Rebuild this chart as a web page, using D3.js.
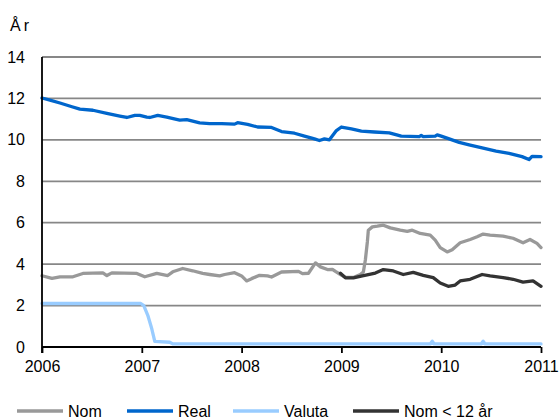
<!DOCTYPE html>
<html>
<head>
<meta charset="utf-8">
<script src="https://cdn.jsdelivr.net/npm/d3@7"></script>
<style>
  html, body { margin: 0; padding: 0; background: #fff; }
  svg { display: block; }
  text { font-family: "Liberation Sans", Arial, sans-serif; fill: #000; }
</style>
</head>
<body>
<svg id="chart" width="560" height="420"></svg>
<script>
// Decimal-year time points and values (years) for each series
const nomYears = [2006.00, 2006.10, 2006.18, 2006.31, 2006.41, 2006.61, 2006.65, 2006.70, 2006.95, 2007.03,
  2007.15, 2007.26, 2007.31, 2007.41, 2007.51, 2007.61, 2007.68, 2007.78, 2007.83, 2007.93,
  2008.00, 2008.05, 2008.10, 2008.18, 2008.26, 2008.30, 2008.40, 2008.57, 2008.61, 2008.67,
  2008.74, 2008.79, 2008.86, 2008.91, 2008.94, 2008.99, 2009.04, 2009.12, 2009.19, 2009.22,
  2009.24, 2009.26, 2009.27, 2009.31, 2009.36, 2009.42, 2009.49, 2009.59, 2009.66, 2009.71,
  2009.79, 2009.89, 2009.94, 2009.99, 2010.06, 2010.11, 2010.19, 2010.29, 2010.36, 2010.42,
  2010.49, 2010.62, 2010.72, 2010.82, 2010.89, 2010.96, 2011.00];
const nomValues = [3.44, 3.31, 3.39, 3.39, 3.55, 3.58, 3.45, 3.58, 3.55, 3.39,
  3.55, 3.45, 3.63, 3.79, 3.68, 3.55, 3.50, 3.43, 3.50, 3.59,
  3.43, 3.19, 3.30, 3.46, 3.43, 3.38, 3.62, 3.65, 3.54, 3.56,
  4.06, 3.87, 3.74, 3.75, 3.65, 3.50, 3.36, 3.36, 3.50, 3.62,
  4.20, 5.07, 5.64, 5.80, 5.83, 5.88, 5.75, 5.64, 5.58, 5.64,
  5.48, 5.40, 5.16, 4.80, 4.59, 4.70, 5.03, 5.19, 5.32, 5.45,
  5.40, 5.35, 5.25, 5.03, 5.19, 5.00, 4.80];

const realYears = [2006.00, 2006.08, 2006.18, 2006.30, 2006.38, 2006.51, 2006.65, 2006.78, 2006.85, 2006.93,
  2006.98, 2007.05, 2007.08, 2007.16, 2007.25, 2007.38, 2007.45, 2007.58, 2007.68, 2007.80,
  2007.93, 2007.96, 2008.06, 2008.16, 2008.30, 2008.40, 2008.53, 2008.63, 2008.73, 2008.78,
  2008.83, 2008.88, 2008.95, 2009.00, 2009.10, 2009.20, 2009.33, 2009.48, 2009.60, 2009.78,
  2009.80, 2009.82, 2009.94, 2009.96, 2010.00, 2010.08, 2010.18, 2010.28, 2010.41, 2010.55,
  2010.68, 2010.81, 2010.88, 2010.91, 2011.00];
const realValues = [12.02, 11.92, 11.78, 11.60, 11.48, 11.43, 11.28, 11.15, 11.08, 11.18,
  11.18, 11.10, 11.08, 11.18, 11.10, 10.95, 10.98, 10.82, 10.78, 10.78,
  10.76, 10.83, 10.75, 10.62, 10.60, 10.40, 10.32, 10.18, 10.05, 9.97,
  10.05, 10.00, 10.45, 10.62, 10.53, 10.42, 10.38, 10.34, 10.18, 10.16,
  10.22, 10.16, 10.18, 10.24, 10.18, 10.05, 9.88, 9.76, 9.61, 9.46,
  9.35, 9.19, 9.05, 9.20, 9.19];

const valutaYears = [2006.00, 2006.99, 2007.02, 2007.06, 2007.10, 2007.13, 2007.28, 2007.31,
  2009.89, 2009.91, 2009.93, 2010.40, 2010.42, 2010.44, 2011.00];
const valutaValues = [2.10, 2.10, 2.00, 1.53, 0.88, 0.27, 0.23, 0.15,
  0.15, 0.28, 0.15, 0.15, 0.28, 0.15, 0.15];

const nom12Years = [2008.99, 2009.04, 2009.12, 2009.21, 2009.34, 2009.42, 2009.52, 2009.62, 2009.72, 2009.82,
  2009.92, 2009.99, 2010.07, 2010.14, 2010.19, 2010.29, 2010.41, 2010.49, 2010.62, 2010.72,
  2010.82, 2010.92, 2011.00];
const nom12Values = [3.56, 3.34, 3.34, 3.43, 3.57, 3.74, 3.67, 3.50, 3.60, 3.46,
  3.35, 3.09, 2.93, 2.99, 3.19, 3.27, 3.50, 3.43, 3.35, 3.27,
  3.13, 3.19, 2.93];

const yearTicks = [2006, 2007, 2008, 2009, 2010, 2011];
const valueTicks = [0, 2, 4, 6, 8, 10, 12, 14];

const seriesNames = ["Nom", "Real", "Valuta", "Nom < 12 år"];
const seriesColors = ["#999999", "#0066cc", "#99ccff", "#333333"];

const series = [
  { name: seriesNames[0], color: seriesColors[0], pts: d3.zip(nomYears, nomValues) },
  { name: seriesNames[1], color: seriesColors[1], pts: d3.zip(realYears, realValues) },
  { name: seriesNames[2], color: seriesColors[2], pts: d3.zip(valutaYears, valutaValues) },
  { name: seriesNames[3], color: seriesColors[3], pts: d3.zip(nom12Years, nom12Values) }
];

const svg = d3.select("#chart");
const plotLeft = 42, plotRight = 541, plotTop = 57, plotBottom = 347;

const x = d3.scaleLinear().domain([2006, 2011]).range([plotLeft, plotRight]);
const y = d3.scaleLinear().domain([0, 14]).range([plotBottom, plotTop]);

// horizontal gridlines
svg.append("g")
  .selectAll("line")
  .data(valueTicks.filter(v => v > 0))
  .join("line")
  .attr("x1", plotLeft).attr("x2", plotRight)
  .attr("y1", d => y(d)).attr("y2", d => y(d))
  .attr("stroke", "#878787")
  .attr("stroke-width", 1.8);

// y axis labels (no tick marks)
const yAxis = d3.axisLeft(y).tickValues(valueTicks).tickSize(0).tickPadding(17).tickFormat(d3.format("d"));
const gy = svg.append("g").attr("transform", `translate(${plotLeft},0)`).call(yAxis);
gy.select(".domain").remove();
gy.selectAll("text").style("font-size", "16px").style("font-family", "'Liberation Sans', Arial, sans-serif");

// x axis with downward ticks
const xAxis = d3.axisBottom(x).tickValues(yearTicks).tickSize(6).tickPadding(8).tickFormat(d3.format("d"));
const gx = svg.append("g").attr("transform", `translate(0,${plotBottom})`).call(xAxis);
gx.select(".domain").remove();
gx.selectAll(".tick line").attr("stroke", "#000").attr("stroke-width", 1.8);
gx.selectAll("text").style("font-size", "16px").style("font-family", "'Liberation Sans', Arial, sans-serif");

// series lines
const line = d3.line().x(d => x(d[0])).y(d => y(d[1]));
svg.append("g")
  .selectAll("path")
  .data(series)
  .join("path")
  .attr("d", d => line(d.pts))
  .attr("fill", "none")
  .attr("stroke", d => d.color)
  .attr("stroke-width", 3.3)
  .attr("stroke-linejoin", "round")
  .attr("stroke-linecap", "round");

// axis lines
svg.append("line").attr("x1", plotLeft).attr("x2", plotLeft).attr("y1", plotTop).attr("y2", plotBottom + 6)
  .attr("stroke", "#000").attr("stroke-width", 1.8);
svg.append("line").attr("x1", plotLeft).attr("x2", plotRight).attr("y1", plotBottom).attr("y2", plotBottom)
  .attr("stroke", "#000").attr("stroke-width", 1.8);

// unit label
svg.append("text").attr("x", 10).attr("y", 31).style("font-size", "16px")
  .style("letter-spacing", "3px").text("År");

// legend
const legendX = [17, 127, 233, 353];
const legend = svg.append("g").selectAll("g").data(series).join("g")
  .attr("transform", (d, i) => `translate(${legendX[i]},411)`);
legend.append("line").attr("x1", 0).attr("x2", 46).attr("y1", 0).attr("y2", 0)
  .attr("stroke", d => d.color).attr("stroke-width", 3.5);
legend.append("text").attr("x", 51).attr("y", 5.5).style("font-size", "16px").text(d => d.name);
</script>
</body>
</html>
